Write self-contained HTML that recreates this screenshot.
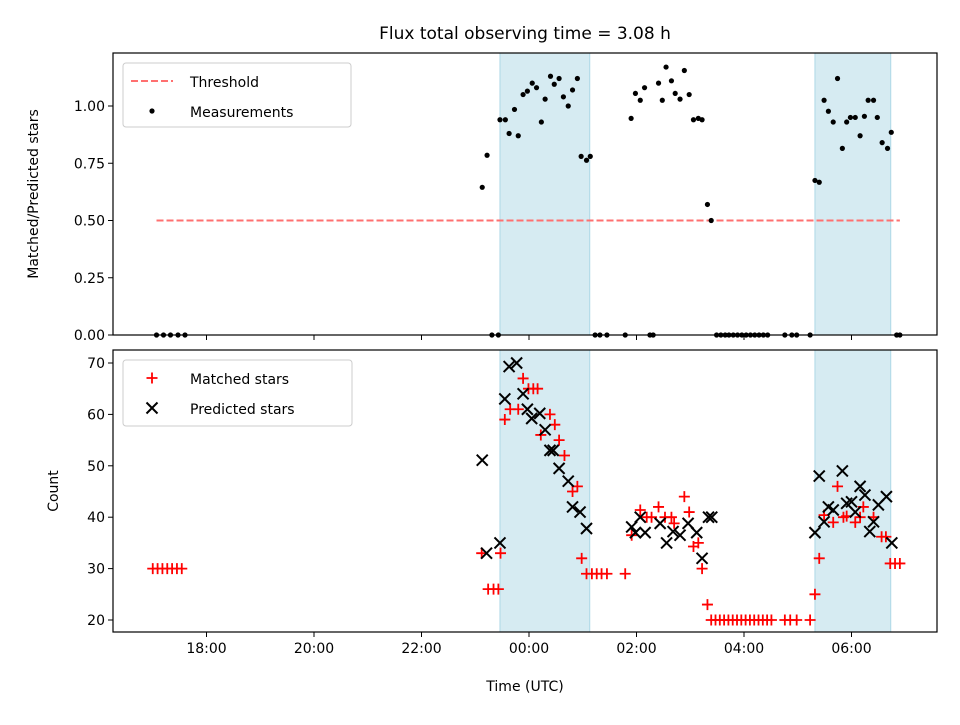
<!DOCTYPE html>
<html><head><meta charset="utf-8"><style>
body{margin:0;background:#fff}
svg text{font-family:"DejaVu Sans","Liberation Sans",sans-serif;fill:#000}
</style></head><body>
<svg id="c" width="960" height="720" xmlns="http://www.w3.org/2000/svg"></svg>
<script>
// ---- data (hours relative to 00:00 UTC) ----
const xTickLabels=["18:00","20:00","22:00","00:00","02:00","04:00","06:00"];
const xTickHours=[-6,-4,-2,0,2,4,6];
const ratioTicks=[0,0.25,0.5,0.75,1.0];
const countTicks=[20,30,40,50,60,70];
const shadeSpans=[[-0.54,1.13],[5.32,6.73]];
const threshold=0.5;
const thresholdRange=[-6.93,6.9];
const measTimes=[-0.87,-0.78,-0.54,-0.44,-0.37,-0.27,-0.20,-0.11,-0.03,0.06,0.14,0.23,0.30,0.40,0.47,0.56,0.64,0.73,0.81,0.90,0.97,1.07,1.14,1.90,1.98,2.07,2.15,2.41,2.48,2.55,2.65,2.72,2.81,2.89,2.98,3.06,3.15,3.22,3.32,3.39,5.32,5.40,5.49,5.57,5.66,5.74,5.83,5.91,5.98,6.07,6.16,6.24,6.31,6.41,6.48,6.57,6.67,6.74];
const measValues=[0.645,0.785,0.94,0.94,0.88,0.985,0.87,1.05,1.065,1.10,1.08,0.93,1.03,1.13,1.095,1.12,1.04,1.00,1.07,1.12,0.78,0.763,0.78,0.946,1.055,1.025,1.08,1.10,1.025,1.17,1.11,1.055,1.03,1.155,1.05,0.94,0.946,0.94,0.57,0.50,0.675,0.667,1.025,0.977,0.93,1.12,0.815,0.93,0.95,0.95,0.87,0.955,1.025,1.025,0.95,0.84,0.815,0.885];
const zeroTimes=[-6.93,-6.8,-6.67,-6.53,-6.4,-0.69,-0.57,1.23,1.32,1.45,1.79,2.25,2.31,3.49,3.57,3.65,3.72,3.80,3.88,3.96,4.04,4.12,4.20,4.28,4.36,4.44,4.76,4.89,4.98,5.23,6.84,6.90];
const matchedTimes=[-7.0,-6.91,-6.82,-6.73,-6.64,-6.55,-6.46,-0.88,-0.76,-0.66,-0.57,-0.53,-0.45,-0.35,-0.20,-0.11,-0.01,0.08,0.16,0.39,0.48,0.22,0.56,0.66,0.81,0.90,0.98,1.07,1.17,1.26,1.35,1.45,1.79,1.91,2.07,2.19,2.28,2.41,2.53,2.65,2.70,2.89,2.98,3.06,3.15,3.22,3.32,3.39,3.47,3.55,3.63,3.71,3.79,3.87,3.95,4.03,4.11,4.19,4.27,4.35,4.43,4.51,4.76,4.86,4.98,5.23,5.32,5.40,5.49,5.66,5.74,5.85,5.91,6.07,6.22,6.16,6.41,6.56,6.64,6.72,6.81,6.90];
const matchedValues=[30,30,30,30,30,30,30,33,26,26,26,33,59,61,61,67,65,65,65,60,58,56,55,52,45,46,32,29,29,29,29,29,29,36.5,41.4,40,40,42,40,40,38.8,44,41,34.3,35,30,23,20,20,20,20,20,20,20,20,20,20,20,20,20,20,20,20,20,20,20,25,32,40.4,39,46,40,40.2,39,42,40,40,36.2,36.2,31,31,31];
const predTimes=[-0.87,-0.79,-0.54,-0.45,-0.37,-0.23,-0.11,-0.03,0.05,0.20,0.30,0.39,0.45,0.56,0.73,0.81,0.95,1.07,1.91,1.98,2.07,2.16,2.44,2.56,2.68,2.81,2.96,3.12,3.22,3.34,3.40,5.32,5.40,5.49,5.57,5.66,5.83,5.91,6.00,6.07,6.16,6.25,6.34,6.41,6.50,6.65,6.75];
const predValues=[51.1,33,35,63,69.3,70,64,61,59.2,60.2,57,53,53,49.5,47,42,41,37.8,38.1,37,40,37,38.8,35,37.2,36.5,38.8,37,32,40,40,37,48,39.1,42,41.4,49,42.7,43,41,46,44.3,37.2,39.1,42.4,44,35];

const NS="http://www.w3.org/2000/svg";
const svg=document.getElementById('c');
function el(t,a,p){const e=document.createElementNS(NS,t);for(const k in a)e.setAttribute(k,a[k]);(p||svg).appendChild(e);return e;}
const L=113,R=937,T1=53,B1=335,T2=350,B2=632;
const xs=h=>529+h*53.75;
const y1=v=>335-v*229;
const y2=c=>620-(c-20)*5.14;

function panel(top,bot,name){
  const g=el('g',{});
  
  
  shadeSpans.forEach(s=>{
    const r=el('rect',{x:xs(s[0]),y:top,width:xs(s[1])-xs(s[0]),height:bot-top,fill:'#add8e6','fill-opacity':0.5,stroke:'#add8e6','stroke-width':1},g);
    
    
  });
  return g;
}
function frame(top,bot,g){
  el('rect',{x:L,y:top,width:R-L,height:bot-top,fill:'none',stroke:'#000','stroke-width':1.2},g);
  xTickHours.forEach(h=>el('line',{x1:xs(h),x2:xs(h),y1:bot,y2:bot+5,stroke:'#000','stroke-width':1},g));
}

const t=el('text',{x:525,y:39,'font-size':17,'text-anchor':'middle'});t.textContent='Flux total observing time = 3.08 h';


const g1=panel(T1,B1,'ratio-panel');
const thr=el('line',{x1:xs(thresholdRange[0]),x2:xs(thresholdRange[1]),y1:y1(threshold),y2:y1(threshold),stroke:'#ff7070','stroke-width':2,'stroke-dasharray':'7,3'},g1);

measTimes.forEach((h,i)=>{const c=el('circle',{cx:xs(h),cy:y1(measValues[i]),r:2.6,fill:'#000'},g1);
  });
zeroTimes.forEach(h=>{const c=el('circle',{cx:xs(h),cy:y1(0),r:2.6,fill:'#000'},g1);
  });
frame(T1,B1,g1);
ratioTicks.forEach(v=>{el('line',{x1:L-5,x2:L,y1:y1(v),y2:y1(v),stroke:'#000'},g1);
  const tx=el('text',{x:L-8,y:y1(v)+5,'font-size':14,'text-anchor':'end'},g1);tx.textContent=v.toFixed(2);
  });
const yt1=el('text',{x:0,y:0,'font-size':14,'text-anchor':'middle',transform:'translate(38,194) rotate(-90)'},g1);yt1.textContent='Matched/Predicted stars';


const g2=panel(T2,B2,'count-panel');
function plus(x,y,g){return el('path',{d:`M${x-5.5} ${y}H${x+5.5}M${x} ${y-5.5}V${y+5.5}`,stroke:'#f00','stroke-width':1.8},g);}
function cross(x,y,g){return el('path',{d:`M${x-5.5} ${y-5.5}L${x+5.5} ${y+5.5}M${x-5.5} ${y+5.5}L${x+5.5} ${y-5.5}`,stroke:'#000','stroke-width':2},g);}
matchedTimes.forEach((h,i)=>{const p=plus(xs(h),y2(matchedValues[i]),g2);
  });
predTimes.forEach((h,i)=>{const p=cross(xs(h),y2(predValues[i]),g2);
  });
frame(T2,B2,g2);
countTicks.forEach(v=>{el('line',{x1:L-5,x2:L,y1:y2(v),y2:y2(v),stroke:'#000'},g2);
  const tx=el('text',{x:L-8,y:y2(v)+5,'font-size':14,'text-anchor':'end'},g2);tx.textContent=v;
  });
xTickHours.forEach((h,i)=>{const tx=el('text',{x:xs(h),y:B2+21,'font-size':14,'text-anchor':'middle'},g2);tx.textContent=xTickLabels[i];
  });
const yt2=el('text',{x:0,y:0,'font-size':14,'text-anchor':'middle',transform:'translate(58,491) rotate(-90)'},g2);yt2.textContent='Count';

const xt=el('text',{x:525,y:691,'font-size':14,'text-anchor':'middle'});xt.textContent='Time (UTC)';


const lg1=el('g',{});
el('rect',{x:123,y:63,width:228,height:64,rx:3,fill:'#fff','fill-opacity':0.8,stroke:'#ccc'},lg1);
el('line',{x1:131,x2:173,y1:81,y2:81,stroke:'#ff7070','stroke-width':2,'stroke-dasharray':'7,3'},lg1);
let a=el('text',{x:190,y:87,'font-size':14},lg1);a.textContent='Threshold';
el('circle',{cx:152,cy:111,r:2.6,fill:'#000'},lg1);
a=el('text',{x:190,y:117,'font-size':14},lg1);a.textContent='Measurements';
const lg2=el('g',{});
el('rect',{x:123,y:360,width:229,height:66,rx:3,fill:'#fff','fill-opacity':0.8,stroke:'#ccc'},lg2);
plus(152,378,lg2);a=el('text',{x:190,y:384,'font-size':14},lg2);a.textContent='Matched stars';
cross(152,408,lg2);a=el('text',{x:190,y:414,'font-size':14},lg2);a.textContent='Predicted stars';
</script>
</body></html>
